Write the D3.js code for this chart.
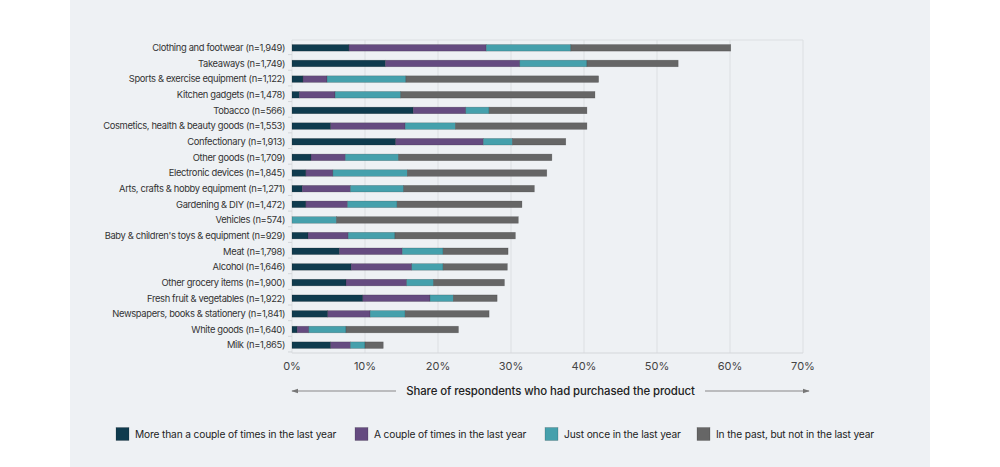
<!DOCTYPE html>
<html>
<head>
<meta charset="utf-8">
<script src="https://cdn.jsdelivr.net/npm/d3@7"></script>
<style>
  body { margin: 0; background: #fff; }
  svg { display: block; font-family: Inter, "Noto Sans", sans-serif; }
</style>
</head>
<body>
<svg id="chart" width="1000" height="467"></svg>
<script>
const categories = [
  'Clothing and footwear (n=1,949)',
  'Takeaways (n=1,749)',
  'Sports & exercise equipment (n=1,122)',
  'Kitchen gadgets (n=1,478)',
  'Tobacco (n=566)',
  'Cosmetics, health & beauty goods (n=1,553)',
  'Confectionary (n=1,913)',
  'Other goods (n=1,709)',
  'Electronic devices (n=1,845)',
  'Arts, crafts & hobby equipment (n=1,271)',
  'Gardening & DIY (n=1,472)',
  'Vehicles (n=574)',
  "Baby & children's toys & equipment (n=929)",
  'Meat (n=1,798)',
  'Alcohol (n=1,646)',
  'Other grocery items (n=1,900)',
  'Fresh fruit & vegetables (n=1,922)',
  'Newspapers, books & stationery (n=1,841)',
  'White goods (n=1,640)',
  'Milk (n=1,865)'
];

// shares in percent
const moreThanCouple = [7.8, 12.8, 1.5, 1.0, 16.6, 5.3, 14.2, 2.6, 1.9, 1.4, 1.9, 0.0, 2.2, 6.5, 8.1, 7.4, 9.7, 4.9, 0.7, 5.3];
const coupleOfTimes  = [18.8, 18.4, 3.3, 4.9, 7.2, 10.2, 12.0, 4.7, 3.7, 6.6, 5.7, 0.0, 5.5, 8.6, 8.3, 8.3, 9.2, 5.8, 1.6, 2.7];
const justOnce       = [11.6, 9.2, 10.8, 9.0, 3.2, 6.9, 4.0, 7.3, 10.2, 7.3, 6.8, 6.1, 6.4, 5.6, 4.3, 3.7, 3.2, 4.8, 5.1, 2.0];
const inThePast      = [21.9, 12.5, 26.4, 26.6, 13.4, 18.0, 7.3, 21.0, 19.1, 17.9, 17.1, 24.9, 16.5, 8.9, 8.8, 9.7, 6.0, 11.5, 15.4, 2.5];

const seriesNames = [
  'More than a couple of times in the last year',
  'A couple of times in the last year',
  'Just once in the last year',
  'In the past, but not in the last year'
];
const xTicks = [0, 10, 20, 30, 40, 50, 60, 70];

const colors = ['#0f3b4e', '#654b80', '#45a0ac', '#666666'];

const svg = d3.select('#chart');

// grey panel
svg.append('rect')
  .attr('x', 70).attr('y', 0)
  .attr('width', 860).attr('height', 467)
  .attr('fill', '#eef1f4');

const x = d3.scaleLinear().domain([0, 70]).range([292, 803]);
const y = d3.scaleBand().domain(categories).range([40, 353])
  .paddingInner(0.58).paddingOuter(0.29);

// gridlines
svg.append('g')
  .selectAll('line')
  .data(xTicks)
  .join('line')
  .attr('x1', d => x(d)).attr('x2', d => x(d))
  .attr('y1', 40).attr('y2', 353)
  .attr('stroke', '#dcdfe2')
  .attr('stroke-width', 1);

svg.append('line')
  .attr('x1', x(0)).attr('x2', x(70))
  .attr('y1', 40).attr('y2', 40)
  .attr('stroke', '#dcdfe2');

svg.append('line')
  .attr('x1', x(0)).attr('x2', x(70))
  .attr('y1', 353).attr('y2', 353)
  .attr('stroke', '#d4d7da');

// small ticks on the left axis, between rows
svg.append('g')
  .selectAll('line')
  .data(categories)
  .join('line')
  .attr('x1', x(0) - 4).attr('x2', x(0))
  .attr('y1', d => y(d) + y.bandwidth() + 3.5)
  .attr('y2', d => y(d) + y.bandwidth() + 3.5)
  .attr('stroke', '#d4d7da');

// stacked bars
const rows = categories.map((c, i) => ({
  cat: c,
  s0: moreThanCouple[i], s1: coupleOfTimes[i], s2: justOnce[i], s3: inThePast[i]
}));
const stack = d3.stack().keys(['s0', 's1', 's2', 's3'])(rows);

svg.append('g')
  .selectAll('g')
  .data(stack)
  .join('g')
  .attr('fill', (d, i) => colors[i])
  .selectAll('rect')
  .data(d => d.filter(s => s[1] - s[0] > 0))
  .join('rect')
  .attr('x', d => x(d[0]))
  .attr('y', d => y(d.data.cat))
  .attr('width', d => x(d[1]) - x(d[0]))
  .attr('height', y.bandwidth())
  .attr('stroke', '#1a1a1a')
  .attr('stroke-opacity', 0.3)
  .attr('stroke-width', 0.6);

// category labels
svg.append('g')
  .selectAll('text')
  .data(categories)
  .join('text')
  .attr('x', 285)
  .attr('y', d => y(d) + y.bandwidth() / 2)
  .attr('dy', '0.35em')
  .attr('text-anchor', 'end')
  .attr('font-size', 9.4)
  .attr('letter-spacing', -0.35)
  .attr('fill', '#333')
  .text(d => d);

// x tick labels
svg.append('g')
  .selectAll('text')
  .data(xTicks)
  .join('text')
  .attr('x', d => x(d))
  .attr('y', 366)
  .attr('dy', '0.35em')
  .attr('text-anchor', 'middle')
  .attr('font-size', 11)
  .attr('fill', '#444')
  .text(d => d + '%');

// axis title with arrows
svg.append('defs').append('marker')
  .attr('id', 'arrow')
  .attr('viewBox', '0 0 10 10')
  .attr('refX', 9).attr('refY', 5)
  .attr('markerWidth', 6).attr('markerHeight', 6)
  .attr('orient', 'auto-start-reverse')
  .append('path')
  .attr('d', 'M0,1.5 L10,5 L0,8.5 Z')
  .attr('fill', '#777');

svg.append('line')
  .attr('x1', 396).attr('x2', 292)
  .attr('y1', 391).attr('y2', 391)
  .attr('stroke', '#888').attr('stroke-width', 1.2)
  .attr('marker-end', 'url(#arrow)');
svg.append('line')
  .attr('x1', 705).attr('x2', 809)
  .attr('y1', 391).attr('y2', 391)
  .attr('stroke', '#888').attr('stroke-width', 1.2)
  .attr('marker-end', 'url(#arrow)');

svg.append('text')
  .attr('x', 550.5).attr('y', 391)
  .attr('dy', '0.35em')
  .attr('text-anchor', 'middle')
  .attr('font-size', 11.4)
  .attr('font-weight', 500)
  .attr('letter-spacing', -0.1)
  .attr('fill', '#222')
  .text('Share of respondents who had purchased the product');

// legend
const legendX = [116, 355, 545, 697];
const legend = svg.append('g')
  .selectAll('g')
  .data(seriesNames)
  .join('g')
  .attr('transform', (d, i) => `translate(${legendX[i]},434)`);

legend.append('rect')
  .attr('x', 0).attr('y', -6.5)
  .attr('width', 13).attr('height', 13)
  .attr('fill', (d, i) => colors[i])
  .attr('stroke', '#1a1a1a').attr('stroke-opacity', 0.3).attr('stroke-width', 0.6);

legend.append('text')
  .attr('x', 19).attr('y', 0)
  .attr('dy', '0.35em')
  .attr('font-size', 10.2)
  .attr('letter-spacing', -0.15)
  .attr('fill', '#222')
  .text(d => d);
</script>
</body>
</html>
